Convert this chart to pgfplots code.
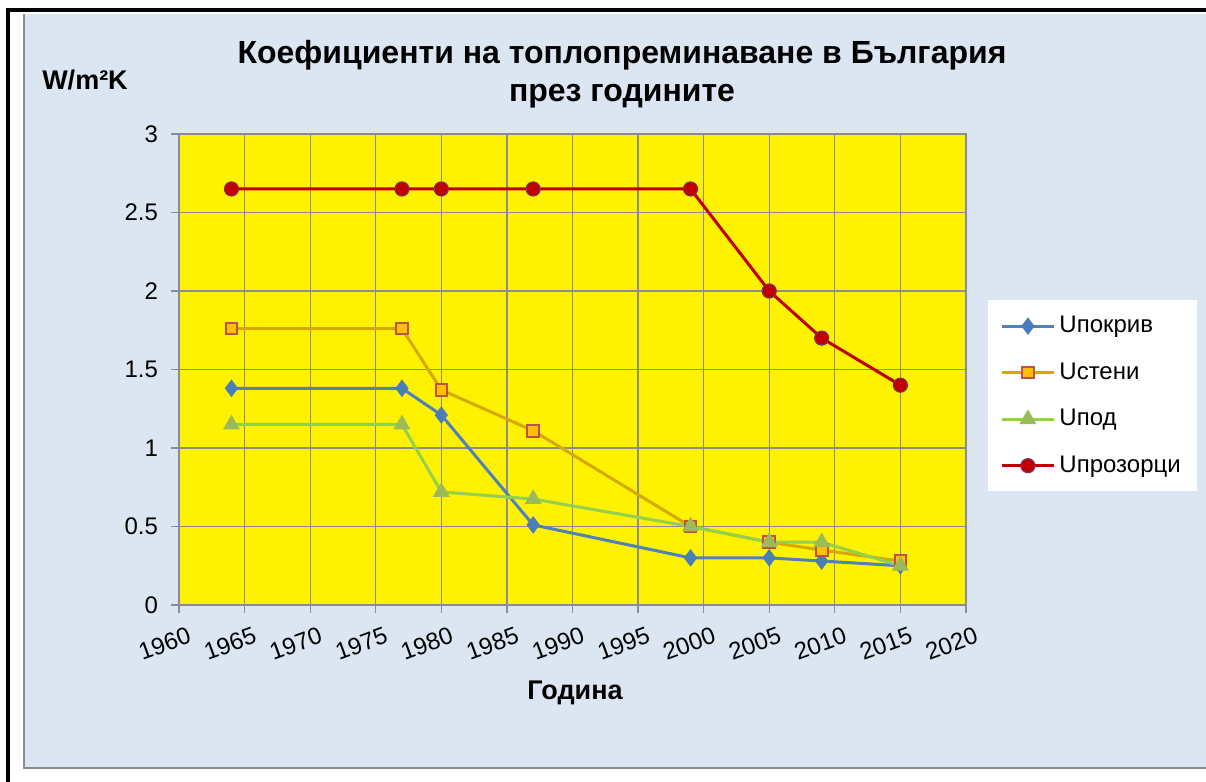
\documentclass[border=0pt]{standalone}
\usepackage{fontspec}
\setmainfont{Liberation Sans}
\usepackage{pgfplots}
\pgfplotsset{compat=1.18}
\definecolor{panel}{HTML}{DCE6F2}
\definecolor{gridc}{HTML}{8C8C8C}
\definecolor{cblue}{HTML}{4F81BD}
\definecolor{cbluem}{HTML}{4A7EBB}
\definecolor{corange}{HTML}{D4AA00}
\definecolor{corangef}{HTML}{FFC000}
\definecolor{cred}{HTML}{C0504D}
\definecolor{cgreen}{HTML}{92D050}
\definecolor{cgreenm}{HTML}{9BBB59}
\definecolor{cdred}{HTML}{C00000}
\definecolor{cpurp}{HTML}{7F3060}
\begin{document}
\begin{tikzpicture}[x=1pt,y=1pt]
\useasboundingbox (-89.5,-88.5) rectangle (513.5,302.5);
% panel
\fill[panel] (-77.5,-81.5) rectangle (513.5,295.5);
\draw[gray!90,line width=1.2pt] (-77.5,295.5) -- (-77.5,-81.5) -- (513.5,-81.5);
% black frame
\draw[black,line width=2pt] (-85.5,-88.5) -- (-85.5,297.5) -- (513.5,297.5);
\begin{axis}[
  at={(0,0)}, anchor=origin,
  scale only axis, width=393.5pt, height=235.5pt,
  xmin=1960, xmax=2020, ymin=0, ymax=3,
  xtick={1960,1965,...,2020}, ytick={0,0.5,...,3},
  grid=major, grid style={gridc, line width=0.6pt},
  axis line style={gridc, line width=0.6pt},
  tick style={gridc, line width=0.6pt},
  tick align=outside, major tick length=4pt,
  xtick pos=bottom, ytick pos=left,
  axis background/.style={fill=yellow},
  /pgf/number format/1000 sep={},
  /pgf/number format/assume math mode=true,
  tick label style={font=\fontsize{12}{14}\selectfont},
  x tick label style={rotate=20, anchor=north east, inner sep=0.5pt, xshift=2pt, yshift=-7pt},
  y tick label style={xshift=-3pt},
  legend style={at={(1.028,0.6476)}, anchor=north west, fill=white, draw=none,
    font=\fontsize{12}{14}\selectfont, row sep=9.5pt, inner xsep=6pt, inner ysep=6pt},
  legend cell align=left,
  legend image code/.code={\draw[mark repeat=2,mark phase=2] plot coordinates {(0pt,0pt) (13pt,0pt) (26pt,0pt)};},
  clip=false,
]
\addplot[cblue, line width=1.5pt, mark=diamond*, mark size=4pt, mark options={fill=cbluem, draw=cbluem, line width=0.5pt}]
 coordinates {(1964,1.38) (1977,1.38) (1980,1.21) (1987,0.51) (1999,0.30) (2005,0.30) (2009,0.28) (2015,0.25)};
\addlegendentry{Uпокрив}
\addplot[corange, line width=1.5pt, mark=square*, mark size=2.9pt, mark options={fill=corangef, draw=cred, line width=1pt}]
 coordinates {(1964,1.76) (1977,1.76) (1980,1.37) (1987,1.11) (1999,0.50) (2005,0.40) (2009,0.35) (2015,0.28)};
\addlegendentry{Uстени}
\addplot[cgreen, line width=1.5pt, mark=triangle*, mark size=4.4pt, mark options={fill=cgreenm, draw=cgreenm, line width=0.5pt}]
 coordinates {(1964,1.15) (1977,1.15) (1980,0.72) (1987,0.675) (1999,0.50) (2005,0.40) (2009,0.40) (2015,0.25)};
\addlegendentry{Uпод}
\addplot[cdred, line width=1.5pt, mark=*, mark size=3.5pt, mark options={fill=cdred, draw=cpurp, line width=0.6pt}]
 coordinates {(1964,2.65) (1977,2.65) (1980,2.65) (1987,2.65) (1999,2.65) (2005,2.00) (2009,1.70) (2015,1.40)};
\addlegendentry{Uпрозорци}
\end{axis}
\node[font=\bfseries\fontsize{16}{19}\selectfont, align=center] at (221.5,265.5) {Коефициенти на топлопреминаване в България\\през годините};
\node[font=\bfseries\fontsize{13.5}{16}\selectfont] at (-47,262.5) {W/m²K};
\node[font=\bfseries\fontsize{13.5}{16}\selectfont] at (198,-44) {Година};
\end{tikzpicture}
\end{document}
